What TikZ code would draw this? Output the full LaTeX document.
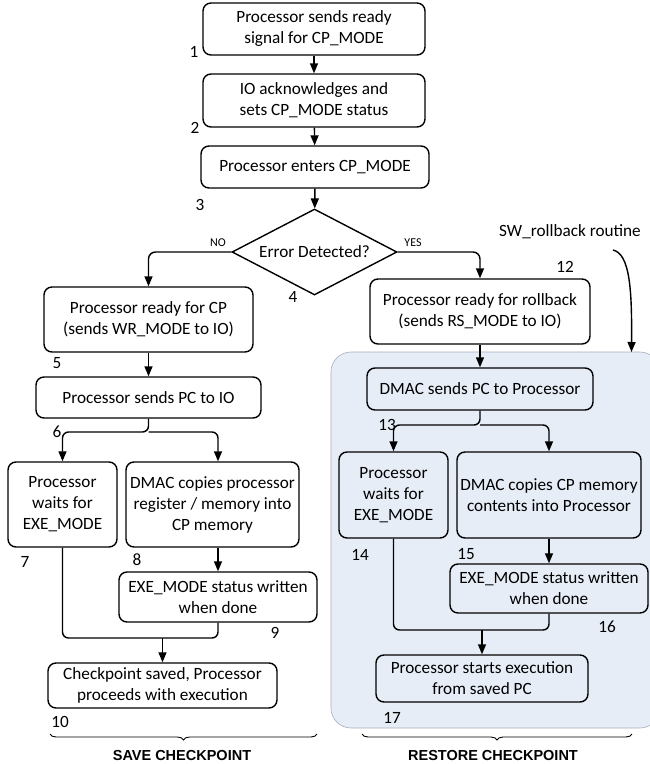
\documentclass[tikz,border=0pt]{standalone}
\usepackage{fontspec}
\setmainfont{Carlito}
\newfontfamily\arialb{Liberation Sans}
\usetikzlibrary{arrows.meta,shapes.geometric,decorations.pathreplacing}
\definecolor{shade}{HTML}{E7EDF7}
\definecolor{shadeline}{HTML}{A7AEBB}
\begin{document}
\begin{tikzpicture}[x=1pt,y=-1pt,
  txt/.style={font=\fontsize{17.2}{21}\selectfont},
  box/.style={txt,draw,line width=1.4pt,rounded corners=8pt,align=center,inner sep=0pt},
  num/.style={txt,inner sep=0pt},
  arr/.style={line width=1.4pt,-{Triangle[length=10pt,width=8pt]}},
  ln/.style={line width=1.4pt},
  small/.style={font=\fontsize{12}{14}\selectfont,inner sep=0pt},
  lab/.style={font=\arialb\bfseries\fontsize{14.5}{16}\selectfont,inner sep=0pt}]
\useasboundingbox (0,0) rectangle (649,764);
% shaded region
\path[fill=shade,draw=shadeline,line width=0.6pt,rounded corners=20pt] (331,352) rectangle (660,728);
% boxes
\node[box,minimum width=222,minimum height=52] (n1) at (314,29) {Processor sends ready\\signal for CP\_MODE};
\node[box,minimum width=222,minimum height=53] (n2) at (314,100.5) {IO acknowledges and\\sets CP\_MODE status};
\node[box,minimum width=228,minimum height=42] (n3) at (315,167) {Processor enters CP\_MODE};
\node[txt,draw,line width=1.4pt,diamond,aspect=1.9,inner sep=0pt,minimum width=165,minimum height=86] (d) at (314.5,252) {Error Detected?};
\node[box,minimum width=209,minimum height=65] (n5) at (148.5,319.5) {Processor ready for CP\\(sends WR\_MODE to IO)};
\node[box,minimum width=225,minimum height=41] (n6) at (148.5,397.5) {Processor sends PC to IO};
\node[box,minimum width=109,minimum height=85] (n7) at (62.5,504.5) {Processor\\waits for\\EXE\_MODE};
\node[box,minimum width=173,minimum height=85] (n8) at (212.5,504.5) {DMAC copies processor\\register / memory into\\CP memory};
\node[box,minimum width=198,minimum height=50] (n9) at (218,597) {EXE\_MODE status written\\when done};
\node[box,minimum width=229,minimum height=45] (n10) at (162.5,685.5) {Checkpoint saved, Processor\\proceeds with execution};
\node[box,minimum width=220,minimum height=65] (n12) at (480,311.5) {Processor ready for rollback\\(sends RS\_MODE to IO)};
\node[box,minimum width=226,minimum height=42] (n13) at (480,389) {DMAC sends PC to Processor};
\node[box,minimum width=109,minimum height=86] (n14) at (393.5,495) {Processor\\waits for\\EXE\_MODE};
\node[box,minimum width=184,minimum height=86] (n15) at (549,495) {DMAC copies CP memory\\contents into Processor};
\node[box,minimum width=198,minimum height=49] (n16) at (549,588.5) {EXE\_MODE status written\\when done};
\node[box,minimum width=212,minimum height=47] (n17) at (482,678.5) {Processor starts execution\\from saved PC};
% numbers
\node[num] (l1) at (194,52) {1};
\node[num] (l2) at (195,128) {2};
\node[num] (l3) at (200,205) {3};
\node[num] (l4) at (293,297) {4};
\node[num] (l5) at (57,363) {5};
\node[num] (l6) at (57,432) {6};
\node[num] (l7) at (25,562) {7};
\node[num] (l8) at (137,560) {8};
\node[num] (l9) at (275,633) {9};
\node[num] (l10) at (60,722) {10};
\node[num] (l12) at (565,267) {12};
\node[num] (l13) at (387,425) {13};
\node[num] (l14) at (360,555) {14};
\node[num] (l15) at (466,554) {15};
\node[num] (l16) at (607,627) {16};
\node[num] (l17) at (392,718) {17};
\node[small] (no) at (218,243) {NO};
\node[small] (yes) at (413,243) {YES};
\node[txt,inner sep=0pt] (sw) at (570,232) {SW\_rollback routine};
% connectors
\draw[arr] (n1) -- (n2);
\draw[arr] (n2) -- (n3);
\draw[arr] (n3) -- (d);
\draw[arr,rounded corners=7pt] (d.west) -| (n5.north);
\draw[arr,rounded corners=7pt] (d.east) -| (n12.north);
\draw[arr] (n5) -- (n6);
\coordinate (s6) at (148.5,432);
\draw[arr,rounded corners=6pt] (n6.south) -- (s6) -| (n7.north);
\draw[arr,rounded corners=6pt] (s6) -| (n8.north -| n9.north);
\draw[arr] (n8.south -| n9.north) -- (n9.north);
\coordinate (m10) at (162.5,638);
\draw[ln,rounded corners=6pt] (n7.south) |- (m10);
\draw[ln,rounded corners=6pt] (n9.south) |- (m10);
\draw[arr] (m10) -- (n10.north);
\draw[arr] (n12) -- (n13);
\coordinate (s13) at (480,425);
\draw[arr,rounded corners=6pt] (n13.south) -- (s13) -| (n14.north);
\draw[arr,rounded corners=6pt] (s13) -| (n15.north);
\draw[arr] (n15) -- (n16);
\coordinate (m17) at (482,630);
\draw[ln,rounded corners=6pt] (n14.south) |- (m17);
\draw[ln,rounded corners=6pt] (n16.south) |- (m17);
\draw[arr] (m17) -- (n17.north);
\coordinate (swa) at (613,250);
\coordinate (swb) at (631.5,352);
\draw[arr] (swa) .. controls (630,254) and (632,290) .. (swb);
% braces
\coordinate (b1a) at (50,734);
\coordinate (b1b) at (317,734);
\draw[line width=0.9pt,decorate,decoration={brace,amplitude=6pt,mirror}] (b1a) -- (b1b);
\coordinate (b2a) at (362,734);
\coordinate (b2b) at (632,734);
\draw[line width=0.9pt,decorate,decoration={brace,amplitude=6pt,mirror}] (b2a) -- (b2b);
\node[lab] (save) at (182,755) {SAVE CHECKPOINT};
\node[lab] (rest) at (493,755) {RESTORE CHECKPOINT};
\end{tikzpicture}
\end{document}
